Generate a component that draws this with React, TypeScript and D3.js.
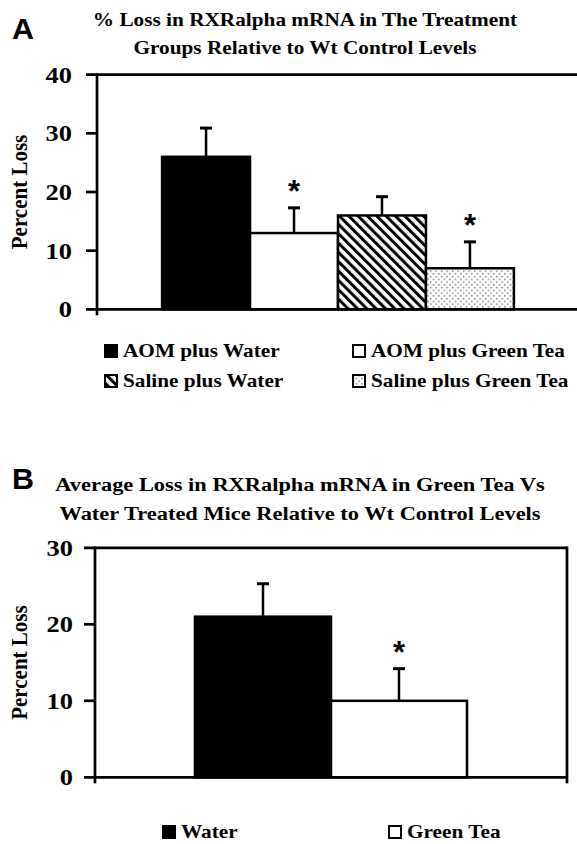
import React from "react";
import * as d3 from "d3";

// ---------- data ----------
const seriesA = ["AOM plus Water", "AOM plus Green Tea", "Saline plus Water", "Saline plus Green Tea"];
const valuesA = [26, 13, 16, 7];
const errorsA = [4.9, 4.3, 3.2, 4.5];
const sigA = [false, true, false, true];
const ticksA = [0, 10, 20, 30, 40];
const titleA = ["% Loss in RXRalpha mRNA in The Treatment", "Groups Relative to Wt Control Levels"];

const seriesB = ["Water", "Green Tea"];
const valuesB = [21, 10];
const errorsB = [4.3, 4.2];
const sigB = [false, true];
const ticksB = [0, 10, 20, 30];
const titleB = ["Average Loss in RXRalpha mRNA in Green Tea Vs", "Water Treated Mice Relative to Wt Control Levels"];

const yLabel = "Percent Loss";

const SERIF = "'Liberation Serif', 'Times New Roman', serif";
const SANS = "'Liberation Sans', Arial, sans-serif";
const SX = 1.15;

const fillsA = ["#000", "#fff", "url(#hatch)", "url(#dots)"];
const fillsB = ["#000", "#fff"];

function T({ x, y, anchor = "start", size = 18, sx = SX, family = SERIF, children }: any) {
  return (
    <text
      transform={`translate(${x},${y}) scale(${sx},1)`}
      textAnchor={anchor}
      fontSize={size}
      fontWeight="bold"
      fontFamily={family}
      fill="#000"
    >
      {children}
    </text>
  );
}

function Panel({ cfg }: any) {
  const { series, values, errors, sig, ticks, fills, x0, x1, yTop, yBot, outerPad, tickLeft } = cfg;
  const max = ticks[ticks.length - 1];
  const y = d3.scaleLinear().domain([0, max]).range([yBot, yTop]);
  const group = d3.scaleBand().domain(["g"]).range([x0, x1]).paddingInner(0).paddingOuter(outerPad);
  const inner = d3.scaleBand().domain(series).range([0, group.bandwidth()]).padding(0);
  const gx = group("g")!;
  const sw = 2.7;
  return (
    <g>
      {series.map((s: string, i: number) => (
        <rect
          key={s}
          x={gx + inner(s)!}
          y={y(values[i])}
          width={inner.bandwidth()}
          height={yBot - y(values[i])}
          fill={fills[i]}
          stroke="#000"
          strokeWidth={2.5}
        />
      ))}
      {series.map((s: string, i: number) => {
        const cx = gx + inner(s)! + inner.bandwidth() / 2;
        const top = y(values[i] + errors[i]);
        return (
          <g key={"e" + s} stroke="#000" strokeWidth={2.5}>
            <line x1={cx} x2={cx} y1={y(values[i])} y2={top} />
            <line x1={cx - 6} x2={cx + 6} y1={top} y2={top} strokeWidth={3} />
          </g>
        );
      })}
      {series.map((s: string, i: number) =>
        sig[i] ? (
          <T
            key={"s" + s}
            x={gx + inner(s)! + inner.bandwidth() / 2}
            y={y(values[i] + errors[i]) - 23 + 17}
            anchor="middle"
            size={31}
            sx={1}
            family={SANS}
          >
            *
          </T>
        ) : null
      )}
      <g stroke="#000" strokeWidth={sw} fill="none">
        <line x1={x0} x2={x0} y1={yTop - sw / 2} y2={yBot + 6} />
        <line x1={tickLeft} x2={x1} y1={yBot} y2={yBot} />
        <line x1={tickLeft} x2={x1} y1={yTop} y2={yTop} />
        {ticks.slice(1, -1).map((t: number) => (
          <line key={t} x1={tickLeft} x2={x0} y1={y(t)} y2={y(t)} />
        ))}
        {cfg.rightBorder ? <line x1={x1} x2={x1} y1={yTop - sw / 2} y2={yBot + 6} /> : null}
      </g>
      {ticks.map((t: number) => (
        <T key={"l" + t} x={cfg.labelRight} y={y(t) + 8} anchor="end" size={23}>
          {t}
        </T>
      ))}
      <text
        transform={`translate(${cfg.yLabelX},${(yTop + yBot) / 2}) scale(1.05,1) rotate(-90)`}
        textAnchor="middle"
        fontSize={21}
        fontWeight="bold"
        fontFamily={SERIF}
      >
        {yLabel}
      </text>
    </g>
  );
}

function LegendItem({ x, y, fill, label, size }: any) {
  return (
    <g>
      <rect x={x} y={y - 12} width={12} height={12} fill={fill} stroke="#000" strokeWidth={2} />
      <T x={x + 18} y={y} size={size}>{label}</T>
    </g>
  );
}

export default function App() {
  const cfgA = {
    series: seriesA, values: valuesA, errors: errorsA, sig: sigA, ticks: ticksA, fills: fillsA,
    x0: 97, x1: 579, yTop: 74.7, yBot: 309.3, outerPad: 0.185, tickLeft: 86, labelRight: 72,
    yLabelX: 27, rightBorder: false,
  };
  const cfgB = {
    series: seriesB, values: valuesB, errors: errorsB, sig: sigB, ticks: ticksB, fills: fillsB,
    x0: 95, x1: 567, yTop: 547.8, yBot: 777.3, outerPad: 0.3676, tickLeft: 84, labelRight: 73,
    yLabelX: 27, rightBorder: true,
  };
  const legendA = [
    { x: 105, y: 357, i: 0 },
    { x: 353, y: 357, i: 1 },
    { x: 105, y: 387, i: 2 },
    { x: 353, y: 387, i: 3 },
  ];
  const legendB = [
    { x: 163, y: 838, i: 0 },
    { x: 389, y: 838, i: 1 },
  ];
  return (
    <svg
      width={577}
      height={844}
      style={{ position: "absolute", left: 0, top: 0, background: "#fff" }}
    >
      <defs>
        <pattern id="hatch" patternUnits="userSpaceOnUse" width={6.6} height={6.6} patternTransform="rotate(-45)">
          <rect width={6.6} height={6.6} fill="#fff" />
          <rect x={0} y={0} width={3} height={6.6} fill="#000" />
        </pattern>
        <pattern id="dots" patternUnits="userSpaceOnUse" width={5.5} height={5.5}>
          <rect width={5.5} height={5.5} fill="#fff" />
          <rect x={1} y={1} width={1.3} height={1.3} fill="#555" />
          <rect x={3.75} y={3.75} width={1.3} height={1.3} fill="#555" />
        </pattern>
      </defs>

      <T x={12} y={39} size={29} sx={1.05} family={SANS}>A</T>
      <T x={305} y={26} anchor="middle" size={18.5}>{titleA[0]}</T>
      <T x={305} y={54} anchor="middle" size={18.5}>{titleA[1]}</T>
      <Panel cfg={cfgA} />
      {legendA.map((l) => (
        <LegendItem key={l.i} x={l.x} y={l.y} fill={fillsA[l.i]} label={seriesA[l.i]} size={18.5} />
      ))}

      <T x={12} y={489} size={29} sx={1.05} family={SANS}>B</T>
      <T x={300} y={491} anchor="middle" size={19.5}>{titleB[0]}</T>
      <T x={300} y={520} anchor="middle" size={19.5}>{titleB[1]}</T>
      <Panel cfg={cfgB} />
      {legendB.map((l) => (
        <LegendItem key={l.i} x={l.x} y={l.y} fill={fillsB[l.i]} label={seriesB[l.i]} size={18.5} />
      ))}
    </svg>
  );
}
